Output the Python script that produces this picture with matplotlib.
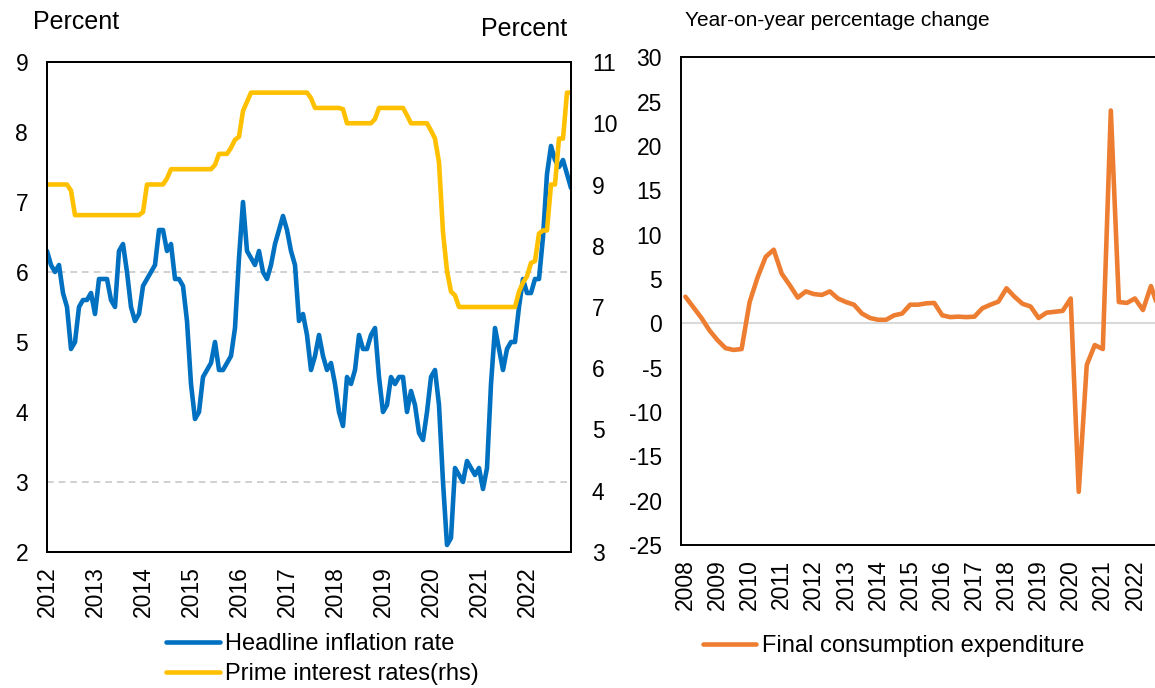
import matplotlib
matplotlib.use("Agg")
import matplotlib.pyplot as plt
import numpy as np

plt.rcParams['font.family'] = ['Liberation Sans', 'DejaVu Sans']
plt.rcParams['axes.unicode_minus'] = False

# monthly data, Jan 2012 - Dec 2022
years_left = ['2012', '2013', '2014', '2015', '2016', '2017', '2018', '2019', '2020', '2021', '2022']

headline_inflation = [
    6.3, 6.1, 6.0, 6.1, 5.7, 5.5, 4.9, 5.0, 5.5, 5.6, 5.6, 5.7,   # 2012
    5.4, 5.9, 5.9, 5.9, 5.6, 5.5, 6.3, 6.4, 6.0, 5.5, 5.3, 5.4,   # 2013
    5.8, 5.9, 6.0, 6.1, 6.6, 6.6, 6.3, 6.4, 5.9, 5.9, 5.8, 5.3,   # 2014
    4.4, 3.9, 4.0, 4.5, 4.6, 4.7, 5.0, 4.6, 4.6, 4.7, 4.8, 5.2,   # 2015
    6.2, 7.0, 6.3, 6.2, 6.1, 6.3, 6.0, 5.9, 6.1, 6.4, 6.6, 6.8,   # 2016
    6.6, 6.3, 6.1, 5.3, 5.4, 5.1, 4.6, 4.8, 5.1, 4.8, 4.6, 4.7,   # 2017
    4.4, 4.0, 3.8, 4.5, 4.4, 4.6, 5.1, 4.9, 4.9, 5.1, 5.2, 4.5,   # 2018
    4.0, 4.1, 4.5, 4.4, 4.5, 4.5, 4.0, 4.3, 4.1, 3.7, 3.6, 4.0,   # 2019
    4.5, 4.6, 4.1, 3.0, 2.1, 2.2, 3.2, 3.1, 3.0, 3.3, 3.2, 3.1,   # 2020
    3.2, 2.9, 3.2, 4.4, 5.2, 4.9, 4.6, 4.9, 5.0, 5.0, 5.5, 5.9,   # 2021
    5.7, 5.7, 5.9, 5.9, 6.5, 7.4, 7.8, 7.6, 7.5, 7.6, 7.4, 7.2,   # 2022
]

prime_rate = [
    9.0, 9.0, 9.0, 9.0, 9.0, 9.0, 8.9, 8.5, 8.5, 8.5, 8.5, 8.5,
    8.5, 8.5, 8.5, 8.5, 8.5, 8.5, 8.5, 8.5, 8.5, 8.5, 8.5, 8.5,
    8.55, 9.0, 9.0, 9.0, 9.0, 9.0, 9.1, 9.25, 9.25, 9.25, 9.25, 9.25,
    9.25, 9.25, 9.25, 9.25, 9.25, 9.25, 9.32, 9.5, 9.5, 9.5, 9.6, 9.73,
    9.78, 10.2, 10.35, 10.5, 10.5, 10.5, 10.5, 10.5, 10.5, 10.5, 10.5, 10.5,
    10.5, 10.5, 10.5, 10.5, 10.5, 10.5, 10.41, 10.25, 10.25, 10.25, 10.25, 10.25,
    10.25, 10.25, 10.23, 10.0, 10.0, 10.0, 10.0, 10.0, 10.0, 10.0, 10.07, 10.25,
    10.25, 10.25, 10.25, 10.25, 10.25, 10.25, 10.13, 10.0, 10.0, 10.0, 10.0, 10.0,
    9.88, 9.75, 9.36, 8.22, 7.59, 7.25, 7.19, 7.0, 7.0, 7.0, 7.0, 7.0,
    7.0, 7.0, 7.0, 7.0, 7.0, 7.0, 7.0, 7.0, 7.0, 7.0, 7.25, 7.4,
    7.5, 7.72, 7.75, 8.2, 8.25, 8.25, 9.0, 9.0, 9.75, 9.75, 10.5, 10.5,
]

# quarterly data, 2008Q1 - 2022Q4
years_right = ['2008', '2009', '2010', '2011', '2012', '2013', '2014', '2015',
               '2016', '2017', '2018', '2019', '2020', '2021', '2022']

consumption = [
    3.0, 1.8, 0.6, -0.8,
    -1.9, -2.8, -3.0, -2.9,
    2.4, 5.2, 7.5, 8.3,
    5.6, 4.3, 2.9, 3.6,
    3.3, 3.2, 3.6, 2.8,
    2.4, 2.1, 1.1, 0.6,
    0.4, 0.4, 0.9, 1.1,
    2.1, 2.1, 2.25, 2.3,
    0.9, 0.7, 0.75, 0.7,
    0.75, 1.7, 2.1, 2.45,
    3.95, 3.0, 2.2, 1.9,
    0.6, 1.2, 1.3, 1.4,
    2.8, -19.0, -4.7, -2.45,
    -2.9, 24.0, 2.4, 2.3,
    2.8, 1.5, 4.2, 1.5,
]

blue = '#0070C0'
gold = '#FFC000'
orange = '#ED7D31'
W, H = 1155, 688
lw = 3.3

fig = plt.figure(figsize=(W / 100, H / 100), dpi=100)

# ---- left panel ----
ax1 = fig.add_axes([47 / W, 136 / H, 524 / W, 490 / H])
ax2 = ax1.twinx()

m = np.arange(len(headline_inflation))
for g in [3, 6]:
    ax1.axhline(g, color='#c8c8c8', ls=(0, (4, 3)), lw=1.2, zorder=0)
l1, = ax1.plot(m, headline_inflation, color=blue, lw=lw,
               solid_joinstyle='round', solid_capstyle='round')
l2, = ax2.plot(m, prime_rate, color=gold, lw=lw,
               solid_joinstyle='round', solid_capstyle='round')

ax1.set_xlim(0, len(m) - 1)
ax1.set_ylim(2, 9)
ax2.set_ylim(3, 11)
ax1.set_yticks(range(2, 10))
ax2.set_yticks(range(3, 12))
ax1.set_xticks(np.arange(0, len(m), 12))
ax1.set_xticklabels(years_left, rotation=90)
ax1.tick_params(axis='x', length=0, pad=10, labelsize=16.5)
ax1.tick_params(axis='y', length=0, pad=13.5, labelsize=16.5)
ax2.tick_params(axis='y', length=0, pad=15, labelsize=16.5)
for ax in (ax1, ax2):
    for s in ax.spines.values():
        s.set_color('black')
        s.set_linewidth(1.4)

fig.text(33 / W, 1 - 22 / H, 'Percent', fontsize=18, ha='left', va='center')
fig.text(567 / W, 1 - 29 / H, 'Percent', fontsize=18, ha='right', va='center')

fig.legend([l1, l2], ['Headline inflation rate', 'Prime interest rates(rhs)'],
           loc='center left', bbox_to_anchor=(166 / W, 1 - 659 / H),
           frameon=False, fontsize=17, handlelength=2.3, handletextpad=0.2,
           labelspacing=0.32, borderpad=0, borderaxespad=0)

# ---- right panel (runs past the right edge of the image) ----
ax3 = fig.add_axes([681.4 / W, 143 / H, 481.6 / W, 487.7 / H])
q = np.arange(len(consumption))
ax3.axhline(0, color='#d9d9d9', lw=1.5, zorder=0)
l3, = ax3.plot(q, consumption, color=orange, lw=lw,
               solid_joinstyle='round', solid_capstyle='round')
ax3.set_xlim(-0.5, len(q) - 0.5)
ax3.set_ylim(-25, 30)
ax3.set_yticks(range(-25, 31, 5))
ax3.set_xticks(np.arange(0, len(q), 4))
ax3.set_xticklabels(years_right, rotation=90)
ax3.tick_params(axis='x', length=0, pad=10.5, labelsize=16.5)
ax3.tick_params(axis='y', length=0, pad=14, labelsize=16.5)
for s in ax3.spines.values():
    s.set_color('black')
    s.set_linewidth(1.4)

fig.text(685 / W, 1 - 21 / H, 'Year-on-year percentage change', fontsize=15,
         ha='left', va='center')

fig.legend([l3], ['Final consumption expenditure'],
           loc='center left', bbox_to_anchor=(703 / W, 1 - 646 / H),
           frameon=False, fontsize=17, handlelength=2.25, handletextpad=0.25,
           borderpad=0, borderaxespad=0)

fig.savefig('out.png', dpi=100)
